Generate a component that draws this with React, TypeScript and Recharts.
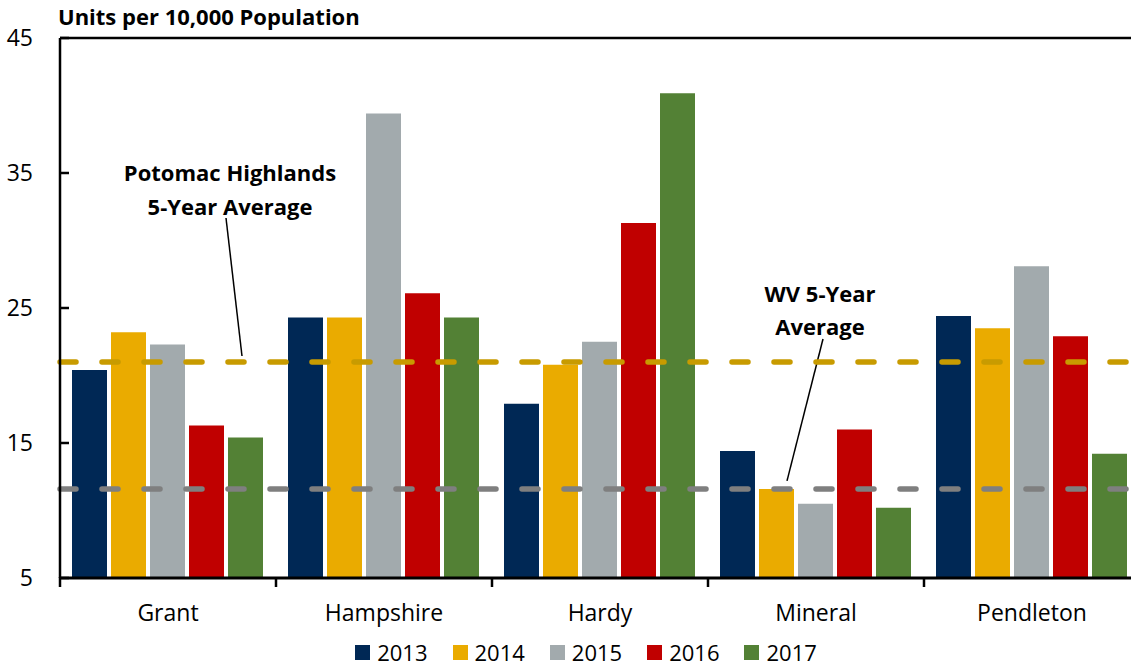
import React from "react";
import { BarChart, Bar, XAxis, YAxis, ReferenceLine, Legend, Customized } from "recharts";

const counties = ["Grant", "Hampshire", "Hardy", "Mineral", "Pendleton"];
const years = ["2013", "2014", "2015", "2016", "2017"];
const colors = ["#002855", "#EAAB00", "#A2AAAD", "#C00000", "#538135"];

const v2013 = [20.4, 24.3, 17.9, 14.4, 24.4];
const v2014 = [23.2, 24.3, 20.8, 11.6, 23.5];
const v2015 = [22.3, 39.4, 22.5, 10.5, 28.1];
const v2016 = [16.3, 26.1, 31.3, 16.0, 22.9];
const v2017 = [15.4, 24.3, 40.9, 10.2, 14.2];

const yTicks = [5, 15, 25, 35, 45];
const highlandsAvg = 21.0;
const wvAvg = 11.6;

const series = [v2013, v2014, v2015, v2016, v2017];
const data = counties.map((c, i) => {
  const row: Record<string, string | number> = { county: c };
  years.forEach((y, j) => (row[y] = series[j][i]));
  return row;
});

const W = 1145;
const H = 668;
const LEFT = 60;
const TOP = 38;
const BOTTOM = 578;
const RIGHT = 1140;
const band = (RIGHT - LEFT) / counties.length;
const font = "'Open Sans', Lato, sans-serif";
const yPix = (v: number) => TOP + ((45 - v) / 40) * (BOTTOM - TOP);

const XTick = (props: any) => {
  const { x, y, payload, index } = props;
  return (
    <g>
      <line x1={x - band / 2} y1={y - 1} x2={x - band / 2} y2={y + 9} stroke="#000" strokeWidth={2.5} />
      {index === counties.length - 1 && (
        <line x1={x + band / 2} y1={y - 1} x2={x + band / 2} y2={y + 9} stroke="#000" strokeWidth={2.5} />
      )}
      <text x={x} y={y + 43} textAnchor="middle" fontSize={23} fontFamily={font} fill="#000">
        {payload.value}
      </text>
    </g>
  );
};

const YTick = (props: any) => {
  const { x, y, payload } = props;
  return (
    <g>
      <line x1={x + 27} y1={y} x2={x + 36} y2={y} stroke="#000" strokeWidth={2.5} />
      <text x={x} y={y + 8} textAnchor="end" fontSize={23} fontFamily={font} fill="#000">
        {payload.value}
      </text>
    </g>
  );
};

const LegendContent = () => (
  <div style={{ display: "flex", justifyContent: "center", fontFamily: font, fontSize: 22, lineHeight: "normal" }}>
    {years.map((y, i) => (
      <div key={y} style={{ display: "flex", alignItems: "center", marginRight: i < years.length - 1 ? 25 : 0 }}>
        <span style={{ width: 15, height: 15, background: colors[i], display: "inline-block", marginRight: 7, marginTop: 1 }} />
        <span>{y}</span>
      </div>
    ))}
  </div>
);

const Annotations = () => (
  <g fontFamily={font} fontWeight="bold" fontSize={22} fill="#000">
    <text x={58} y={25} textAnchor="start">Units per 10,000 Population</text>
    <text x={230} y={181} textAnchor="middle">Potomac Highlands</text>
    <text x={230} y={215} textAnchor="middle">5-Year Average</text>
    <line x1={226} y1={218} x2={242} y2={yPix(highlandsAvg) - 6} stroke="#000" strokeWidth={1.5} />
    <text x={820} y={302} textAnchor="middle">WV 5-Year</text>
    <text x={820} y={335} textAnchor="middle">Average</text>
    <line x1={823} y1={339} x2={787} y2={yPix(wvAvg) - 8} stroke="#000" strokeWidth={1.5} />
  </g>
);

export default function App() {
  return (
    <div style={{ position: "fixed", left: 0, top: 0, width: 1131, height: 668, overflow: "hidden", background: "#fff" }}>
      <BarChart
        width={W}
        height={H}
        data={data}
        margin={{ top: TOP, right: W - RIGHT, bottom: 0, left: 0 }}
        barCategoryGap={12}
        barGap={4}
      >
        <XAxis
          dataKey="county"
          height={H - BOTTOM}
          axisLine={{ stroke: "#000", strokeWidth: 3 }}
          tickLine={false}
          tickSize={0}
          tickMargin={0}
          tick={<XTick />}
          interval={0}
        />
        <YAxis
          width={LEFT}
          domain={[5, 45]}
          ticks={yTicks}
          allowDataOverflow
          axisLine={{ stroke: "#000", strokeWidth: 2.5 }}
          tickLine={false}
          tickSize={0}
          tickMargin={27}
          tick={<YTick />}
        />
        <ReferenceLine y={45} stroke="#000" strokeWidth={2.5} />
        {years.map((y, i) => (
          <Bar key={y} dataKey={y} fill={colors[i]} isAnimationActive={false} />
        ))}
        <ReferenceLine
          y={highlandsAvg}
          stroke="#C89B00"
          strokeWidth={5.5}
          strokeDasharray="16 26"
          strokeLinecap="round"
        />
        <ReferenceLine
          y={wvAvg}
          stroke="#7F7F7F"
          strokeWidth={5.5}
          strokeDasharray="16 26"
          strokeLinecap="round"
        />
        <Customized component={<Annotations />} />
        <Legend
          verticalAlign="middle"
          align="center"
          layout="horizontal"
          content={<LegendContent />}
          wrapperStyle={{ top: 637, left: 0, width: 1172 }}
        />
      </BarChart>
    </div>
  );
}
